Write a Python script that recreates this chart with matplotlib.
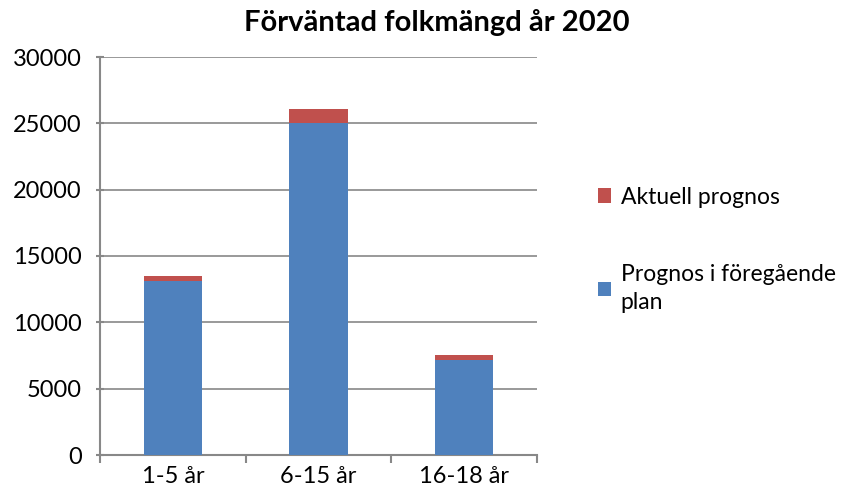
import matplotlib.pyplot as plt
import numpy as np

categories = ['1-5 år', '6-15 år', '16-18 år']
prev_plan = [13100, 25000, 7150]
current_extra = [400, 1100, 400]
series_names = ['Prognos i föregående\nplan', 'Aktuell prognos']
blue = '#4f81bd'
red = '#c0504d'

plt.rcParams['font.family'] = ['Lato', 'DejaVu Sans']

fig = plt.figure(figsize=(8.51, 4.96), dpi=100)
ax = fig.add_axes([100 / 851, 41 / 496, 437 / 851, 398 / 496])

x = np.arange(len(categories))
b1 = ax.bar(x, prev_plan, width=0.4, color=blue, label=series_names[0], zorder=3)
b2 = ax.bar(x, current_extra, width=0.4, bottom=prev_plan, color=red,
            label=series_names[1], zorder=3)

ax.set_xlim(-0.5, 2.5)
ax.set_ylim(0, 30000)
ax.set_yticks(range(0, 30001, 5000))
ax.set_xticks(x)
ax.set_xticklabels(categories, fontsize=17)
ax.set_xticks([-0.5, 0.5, 1.5, 2.5], minor=True)
ax.tick_params(axis='x', which='major', length=0, pad=8)
ax.tick_params(axis='x', which='minor', length=6, color='#888888', width=1.5)
ax.tick_params(axis='y', labelsize=17, length=6, direction='inout',
               color='#888888', width=1.5, pad=10)
ax.grid(axis='y', color='#888888', linewidth=1.2, zorder=0)
for s in ['top', 'right']:
    ax.spines[s].set_visible(False)
for s in ['left', 'bottom']:
    ax.spines[s].set_color('#888888')
    ax.spines[s].set_linewidth(1.5)

fig.text(437 / 851, 1 - 22 / 496, 'Förväntad folkmängd år 2020', fontsize=21,
         fontweight='bold', ha='center', va='center')

leg = fig.legend([b2, b1], [series_names[1], series_names[0]], loc='upper left',
                 bbox_to_anchor=(577 / 851, 1 - 166 / 496), frameon=False, fontsize=16.5,
                 handlelength=0.6, handleheight=0.6, handletextpad=0.4, labelspacing=2.45)
for t in leg.get_texts():
    t.set_linespacing(1.45)

fig.savefig('out.png', dpi=100)
